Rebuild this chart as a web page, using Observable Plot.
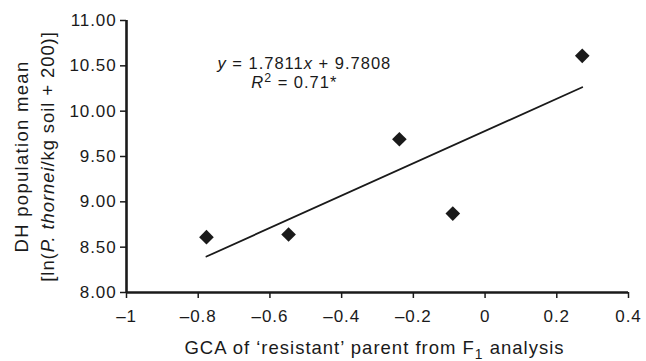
<!DOCTYPE html>
<html>
<head>
<meta charset="utf-8">
<script src="https://cdn.jsdelivr.net/npm/d3@7"></script>
<script src="https://cdn.jsdelivr.net/npm/@observablehq/plot@0.6"></script>
<style>
  html, body { margin: 0; padding: 0; background: #fff; }
  #chart svg { display: block; }
</style>
</head>
<body>
<div id="chart"></div>
<script>
// ---- data ----
const gca = [-0.777, -0.548, -0.239, -0.090, 0.271];
const dhMean = [8.61, 8.64, 9.69, 8.87, 10.61];
const slope = 1.7811;
const intercept = 9.7808;
const xTicks = [-1, -0.8, -0.6, -0.4, -0.2, 0, 0.2, 0.4];
const yTicks = [8, 8.5, 9, 9.5, 10, 10.5, 11];
const eqLabel = "y = 1.7811x + 9.7808";
const r2Label = "R2 = 0.71*";
const xTitle = "GCA of ‘resistant’ parent from F1 analysis";
const yTitle1 = "DH population mean";
const yTitle2 = "[ln(P. thornei/kg soil + 200)]";

const points = gca.map((x, i) => ({x, y: dhMean[i]}));
const xMin = d3.min(gca), xMax = d3.max(gca);
const fit = [xMin, xMax].map(x => ({x, y: slope * x + intercept}));
const fmtX = d => (d < 0 ? "\u2013" : "") + String(Math.abs(d));

const ink = "#1a1a1a";
const plot = Plot.plot({
  width: 646,
  height: 361,
  marginLeft: 126,
  marginRight: 18,
  marginTop: 20,
  marginBottom: 69,
  style: {fontFamily: "'Liberation Sans', Arial, sans-serif", fontSize: "16.5px", color: ink, background: "#fff"},
  x: {domain: [-1, 0.4], ticks: xTicks, tickFormat: fmtX, tickSize: 6, tickPadding: 11, label: null},
  y: {domain: [8, 11], ticks: yTicks, tickFormat: d3.format(".2f"), tickSize: 6, tickPadding: 4, label: null},
  marks: [
    Plot.ruleX([-1], {stroke: ink, strokeWidth: 2.6}),
    Plot.ruleY([8], {stroke: ink, strokeWidth: 2.6}),
    Plot.line(fit, {x: "x", y: "y", stroke: ink, strokeWidth: 1.8}),
    Plot.dot(points, {x: "x", y: "y", symbol: "diamond2", r: 6.6, fill: ink, stroke: "none"}),
    Plot.text([{x: -0.504, y: 10.52}], {x: "x", y: "y", text: () => eqLabel, textAnchor: "middle", lineAnchor: "middle", fontSize: 16.5, fill: ink, className: "eq"}),
    Plot.text([{x: -0.532, y: 10.31}], {x: "x", y: "y", text: () => r2Label, textAnchor: "middle", lineAnchor: "middle", fontSize: 16.5, fill: ink, className: "r2"}),
    Plot.text([xTitle], {frameAnchor: "bottom", dy: 56, dx: -3, textAnchor: "middle", lineAnchor: "middle", fontSize: 18.5, fill: ink, className: "xt"}),
    Plot.text([yTitle1], {frameAnchor: "left", dx: -104, rotate: -90, textAnchor: "middle", lineAnchor: "middle", fontSize: 18.5, fill: ink, className: "yt1"}),
    Plot.text([yTitle2], {frameAnchor: "left", dx: -78, rotate: -90, textAnchor: "middle", lineAnchor: "middle", fontSize: 18.5, fill: ink, className: "yt2"})
  ]
});
document.getElementById("chart").appendChild(plot);

// axis tick labels: a touch larger and wider, tick marks heavier, as in the reference
d3.select(plot).selectAll('g[aria-label="x-axis tick label"] text, g[aria-label="y-axis tick label"] text')
  .attr("font-size", 17).style("letter-spacing", "0.9px");
d3.select(plot).selectAll('g[aria-label="x-axis tick"] path, g[aria-label="y-axis tick"] path').attr("stroke-width", 1.5);

// rich text: italics, superscript, subscript
function rich(cls, parts, spacing) {
  d3.select(plot).selectAll(`g.${cls} text`).each(function() {
    const t = d3.select(this);
    t.text(null).style("letter-spacing", spacing + "px");
    let shift = 0;
    parts.forEach(p => {
      const s = t.append("tspan").text(p.t);
      if (p.i) s.attr("font-style", "italic");
      const target = p.sup ? -6 : p.sub ? 4.5 : 0;
      if (target !== shift) { s.attr("dy", target - shift); shift = target; }
      if (p.sup || p.sub) s.attr("font-size", "0.75em");
    });
  });
}
rich("eq", [{t: "y", i: 1}, {t: " = 1.7811"}, {t: "x", i: 1}, {t: " + 9.7808"}], 1);
rich("r2", [{t: "R", i: 1}, {t: "2", sup: 1}, {t: " = 0.71*"}], 1);
rich("xt", [{t: "GCA of ‘resistant’ parent from F"}, {t: "1", sub: 1}, {t: " analysis"}], 1);
rich("yt1", [{t: yTitle1}], 1.3);
rich("yt2", [{t: "[ln("}, {t: "P. thornei", i: 1}, {t: "/kg soil + 200)]"}], 0.9);
</script>
</body>
</html>
